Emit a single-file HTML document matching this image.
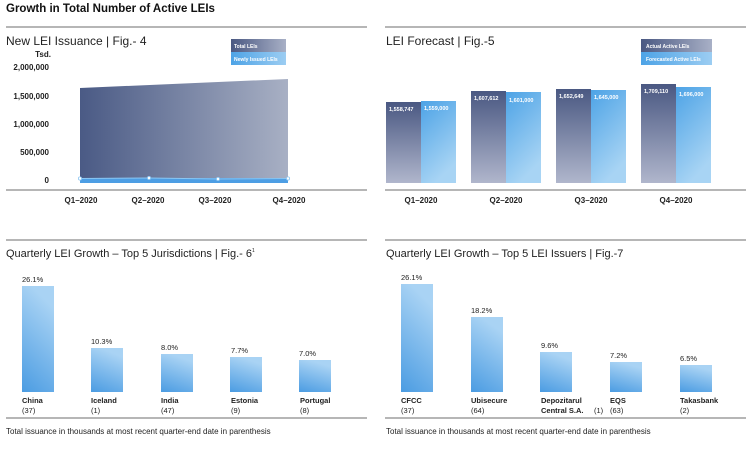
<!DOCTYPE html><html><head><style>
body{margin:0;background:#fff;width:750px;height:451px;overflow:hidden;font-family:"Liberation Sans",sans-serif;}
svg text{font-family:"Liberation Sans",sans-serif;}
</style></head><body>
<svg width="750" height="451" viewBox="0 0 750 451" xmlns="http://www.w3.org/2000/svg">
<defs>
<linearGradient id="ar" x1="0" x2="1" y1="0" y2="0"><stop offset="0" stop-color="#4a5a85"/><stop offset="1" stop-color="#a8b0c4"/></linearGradient>
<linearGradient id="dk" x1="0" x2="0" y1="0" y2="1"><stop offset="0" stop-color="#4a5882"/><stop offset="1" stop-color="#b0b6cc"/></linearGradient>
<linearGradient id="lb" x1="0" x2="0.4" y1="0" y2="1"><stop offset="0" stop-color="#4da3e6"/><stop offset="1" stop-color="#a8d4f4"/></linearGradient>
<linearGradient id="bb" x1="0.3" x2="0" y1="0" y2="1"><stop offset="0" stop-color="#a9d3f4"/><stop offset="1" stop-color="#4b9ce2"/></linearGradient>
<linearGradient id="lg1" x1="0" x2="1"><stop offset="0" stop-color="#4a5882"/><stop offset="1" stop-color="#a8b0c6"/></linearGradient>
<linearGradient id="lg2" x1="0" x2="1"><stop offset="0" stop-color="#4da3e6"/><stop offset="1" stop-color="#9ccdf2"/></linearGradient>
</defs>
<text x="6" y="12" font-size="11.5" font-weight="bold" fill="#111">Growth in Total Number of Active LEIs</text>
<g stroke="#8a8a8a" stroke-width="1.2"><line x1="6" y1="27" x2="367" y2="27"/><line x1="385" y1="27" x2="746" y2="27"/><line x1="6" y1="190" x2="367" y2="190"/><line x1="385" y1="190" x2="746" y2="190"/><line x1="6" y1="240" x2="367" y2="240"/><line x1="385" y1="240" x2="746" y2="240"/><line x1="6" y1="418" x2="367" y2="418"/><line x1="385" y1="418" x2="746" y2="418"/></g>
<text x="6" y="45" font-size="12" fill="#222">New LEI Issuance  |  Fig.- 4</text>
<g font-size="8" font-weight="bold" fill="#222" text-anchor="end">
<text x="51" y="57">Tsd.</text><text x="49" y="70">2,000,000</text><text x="49" y="99">1,500,000</text><text x="49" y="127">1,000,000</text><text x="49" y="155">500,000</text><text x="49" y="183">0</text></g>
<polygon points="80,88 288,79 288,183 80,183" fill="url(#ar)"/>
<rect x="80" y="178" width="208" height="5" fill="#4d9ee4"/>
<polyline points="80,178.5 149,178 218,179 288,178.5" fill="none" stroke="#8cc6f2" stroke-width="1"/>
<g fill="#fff" stroke="#8cc6f2" stroke-width="0.8"><circle cx="80" cy="178.5" r="1.6"/><circle cx="149" cy="178" r="1.6"/><circle cx="218" cy="179" r="1.6"/><circle cx="288" cy="178.5" r="1.6"/></g>
<rect x="231" y="39" width="55" height="13" fill="url(#lg1)"/><rect x="231" y="52" width="55" height="13" fill="url(#lg2)"/>
<text x="234" y="48" font-size="5" fill="#fff" font-weight="bold">Total LEIs</text><text x="234" y="61" font-size="5" fill="#fff" font-weight="bold">Newly Issued LEIs</text>
<g font-size="8" font-weight="bold" fill="#222" text-anchor="middle"><text x="81" y="203">Q1–2020</text><text x="148" y="203">Q2–2020</text><text x="215" y="203">Q3–2020</text><text x="289" y="203">Q4–2020</text></g>
<text x="386" y="45" font-size="12" fill="#222">LEI Forecast  |  Fig.-5</text>
<rect x="641" y="39" width="71" height="13" fill="url(#lg1)"/><rect x="641" y="52" width="71" height="13" fill="url(#lg2)"/>
<text x="646" y="48" font-size="5" fill="#fff" font-weight="bold">Actual Active LEIs</text><text x="646" y="61" font-size="5" fill="#fff" font-weight="bold">Forecasted Active LEIs</text>
<g>
<rect x="386" y="102" width="35" height="81" fill="url(#dk)"/><rect x="421" y="101" width="35" height="82" fill="url(#lb)"/>
<rect x="471" y="91" width="35" height="92" fill="url(#dk)"/><rect x="506" y="92" width="35" height="91" fill="url(#lb)"/>
<rect x="556" y="89" width="35" height="94" fill="url(#dk)"/><rect x="591" y="90" width="35" height="93" fill="url(#lb)"/>
<rect x="641" y="84" width="35" height="99" fill="url(#dk)"/><rect x="676" y="87" width="35" height="96" fill="url(#lb)"/>
</g>
<g font-size="5.5" fill="#fff" font-weight="bold">
<text x="389" y="111">1,558,747</text><text x="424" y="110">1,559,000</text>
<text x="474" y="100">1,607,612</text><text x="509" y="102">1,601,000</text>
<text x="559" y="98">1,652,649</text><text x="594" y="99">1,645,000</text>
<text x="644" y="93">1,709,110</text><text x="679" y="96">1,696,000</text></g>
<g font-size="8" font-weight="bold" fill="#222" text-anchor="middle"><text x="421" y="203">Q1–2020</text><text x="506" y="203">Q2–2020</text><text x="591" y="203">Q3–2020</text><text x="676" y="203">Q4–2020</text></g>
<text x="6" y="257" font-size="11" fill="#222">Quarterly LEI Growth – Top 5 Jurisdictions  |  Fig.- 6<tspan font-size="5" dy="-5">1</tspan></text>
<g fill="url(#bb)"><rect x="22" y="286" width="32" height="106"/><rect x="91" y="348" width="32" height="44"/><rect x="161" y="354" width="32" height="38"/><rect x="230" y="357" width="32" height="35"/><rect x="299" y="360" width="32" height="32"/></g>
<g font-size="7.5" fill="#222"><text x="22" y="282">26.1%</text><text x="91" y="344">10.3%</text><text x="161" y="350">8.0%</text><text x="231" y="353">7.7%</text><text x="299" y="356">7.0%</text>
<text x="22" y="413">(37)</text><text x="91" y="413">(1)</text><text x="161" y="413">(47)</text><text x="231" y="413">(9)</text><text x="300" y="413">(8)</text></g>
<g font-size="8" fill="#222"><text x="6" y="434">Total issuance in thousands at most recent quarter-end date in parenthesis</text>
<text x="386" y="434">Total issuance in thousands at most recent quarter-end date in parenthesis</text></g>
<g font-size="7.5" fill="#222" font-weight="bold"><text x="22" y="403">China</text><text x="91" y="403">Iceland</text><text x="161" y="403">India</text><text x="231" y="403">Estonia</text><text x="300" y="403">Portugal</text></g>
<text x="386" y="257" font-size="11" fill="#222">Quarterly LEI Growth – Top 5 LEI Issuers  |  Fig.-7</text>
<g fill="url(#bb)"><rect x="401" y="284" width="32" height="108"/><rect x="471" y="317" width="32" height="75"/><rect x="540" y="352" width="32" height="40"/><rect x="610" y="362" width="32" height="30"/><rect x="680" y="365" width="32" height="27"/></g>
<g font-size="7.5" fill="#222"><text x="401" y="280">26.1%</text><text x="471" y="313">18.2%</text><text x="541" y="348">9.6%</text><text x="610" y="358">7.2%</text><text x="680" y="361">6.5%</text>
<text x="401" y="413">(37)</text><text x="471" y="413">(64)</text><text x="610" y="413">(63)</text><text x="680" y="413">(2)</text><text x="594" y="413">(1)</text></g>
<g font-size="7.5" fill="#222" font-weight="bold"><text x="401" y="403">CFCC</text><text x="471" y="403">Ubisecure</text><text x="541" y="403">Depozitarul</text><text x="541" y="413">Central S.A.</text><text x="610" y="403">EQS</text><text x="680" y="403">Takasbank</text></g>
</svg>
</body></html>
